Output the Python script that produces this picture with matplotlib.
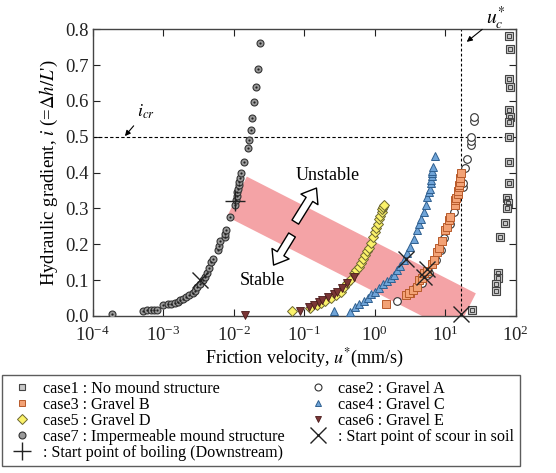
import numpy as np
import matplotlib
matplotlib.use('Agg')
import matplotlib.pyplot as plt
from matplotlib.lines import Line2D
from matplotlib.patches import Polygon
from matplotlib.ticker import LogFormatterMathtext, NullLocator

plt.rcParams['font.family'] = ['Liberation Serif', 'DejaVu Serif']
plt.rcParams['mathtext.fontset'] = 'stix'

# friction velocity u* (mm/s) and hydraulic gradient i for each case
case1_u = [80, 82, 80, 84, 80, 84, 80, 80, 80, 80, 75, 78, 75, 70, 60, 56, 57, 52, 52, 24]
case1_i = [0.78, 0.745, 0.66, 0.64, 0.575, 0.555, 0.54, 0.50, 0.43, 0.37, 0.33, 0.315,
           0.30, 0.26, 0.22, 0.12, 0.105, 0.09, 0.07, 0.017]
case2_u = [2.1, 3.8, 4.0, 4.7, 5.6, 5.9, 7.3, 8.8, 9.7, 11.7, 13.3, 17.9, 17.9, 19.2,
           20.7, 23.5, 23.5, 23.5, 25.2, 25.2]
case2_i = [0.043, 0.08, 0.082, 0.091, 0.114, 0.119, 0.156, 0.184, 0.217, 0.258, 0.291,
           0.36, 0.371, 0.412, 0.437, 0.477, 0.489, 0.5, 0.545, 0.554]
case3_u = [1.43, 2.8, 3.2, 3.05, 3.5, 4.0, 4.2, 4.7, 5.0, 5.6, 6.6, 7.0, 7.6, 8.2, 9.1,
           10.0, 10.6, 11.2, 11.7, 13.7, 13.7, 14.2, 15.0, 15.3, 15.6, 15.8, 16.0, 16.3, 16.6]
case3_i = [0.033, 0.059, 0.063, 0.065, 0.072, 0.082, 0.10, 0.105, 0.119, 0.125, 0.145,
           0.156, 0.179, 0.19, 0.21, 0.24, 0.249, 0.268, 0.275, 0.31, 0.323, 0.33, 0.34,
           0.35, 0.36, 0.365, 0.375, 0.385, 0.40]
case4_u = [0.26, 0.45, 0.52, 0.6, 0.7, 0.8, 0.88, 1.0, 1.15, 1.33, 1.5, 1.7, 1.87, 2.05,
           2.3, 2.6, 2.9, 3.2, 3.6, 4.0, 4.3, 4.6, 5.0, 5.3, 5.6, 5.8, 6.0, 6.2, 6.3, 6.4,
           6.5, 6.6, 6.7, 7.2]
case4_i = [0.015, 0.012, 0.025, 0.033, 0.042, 0.05, 0.06, 0.068, 0.078, 0.09, 0.098,
           0.105, 0.115, 0.128, 0.14, 0.156, 0.175, 0.193, 0.215, 0.24, 0.258, 0.272,
           0.29, 0.31, 0.333, 0.345, 0.355, 0.37, 0.38, 0.39, 0.40, 0.405, 0.416, 0.446]
case5_u = [0.067, 0.12, 0.15, 0.17, 0.2, 0.24, 0.28, 0.33, 0.37, 0.41, 0.45, 0.5, 0.55,
           0.6, 0.63, 0.68, 0.73, 0.78, 0.82, 0.88, 0.96, 1.0, 1.05, 1.1, 1.15, 1.2,
           1.25, 1.27, 1.3, 1.35]
case5_i = [0.015, 0.021, 0.03, 0.035, 0.042, 0.049, 0.058, 0.068, 0.08, 0.091, 0.1,
           0.119, 0.128, 0.137, 0.147, 0.158, 0.17, 0.18, 0.19, 0.205, 0.221, 0.235,
           0.245, 0.258, 0.27, 0.28, 0.29, 0.298, 0.305, 0.31]
case6_u = [0.0145, 0.088, 0.116, 0.137, 0.16, 0.18, 0.22, 0.26, 0.29, 0.34, 0.41, 0.5]
case6_i = [0.003, 0.015, 0.026, 0.031, 0.038, 0.045, 0.054, 0.062, 0.068, 0.077, 0.091, 0.11]
case7_u = [1.9e-4, 5.1e-4, 5.8e-4, 6.6e-4, 7.3e-4, 8.1e-4, 1.0e-3, 1.15e-3, 1.3e-3,
           1.45e-3, 1.6e-3, 1.75e-3, 1.9e-3, 2.1e-3, 2.3e-3, 2.6e-3, 2.8e-3, 3.0e-3,
           3.3e-3, 3.6e-3, 3.9e-3, 4.2e-3, 4.5e-3, 4.8e-3, 5.0e-3, 6.0e-3, 6.2e-3,
           6.4e-3, 7.4e-3, 7.6e-3, 7.8e-3, 8.7e-3, 1.05e-2, 1.08e-2, 1.1e-2, 1.12e-2,
           1.15e-2, 1.18e-2, 1.2e-2, 1.23e-2, 1.26e-2, 1.39e-2, 1.57e-2, 1.64e-2,
           1.73e-2, 1.84e-2, 1.94e-2, 2.04e-2, 2.17e-2, 2.35e-2]
case7_i = [0.006, 0.015, 0.016, 0.017, 0.018, 0.018, 0.03, 0.032, 0.034, 0.036, 0.04,
           0.045, 0.048, 0.052, 0.058, 0.065, 0.07, 0.08, 0.09, 0.1, 0.11, 0.12, 0.135,
           0.15, 0.16, 0.185, 0.195, 0.21, 0.22, 0.23, 0.24, 0.275, 0.31, 0.325, 0.335,
           0.345, 0.355, 0.365, 0.375, 0.385, 0.40, 0.43, 0.468, 0.491, 0.519, 0.553,
           0.598, 0.638, 0.69, 0.762]
# start points
scour_u = [3.3e-3, 2.75, 5.0, 5.5, 16.5]
scour_i = [0.10, 0.16, 0.11, 0.13, 0.005]
boil_u = [0.0105]
boil_i = [0.32]
# limits
i_cr = 0.5
u_c = 16.5
# transition band corners (u, i)
band_u = [0.0153, 27.2, 14.1, 0.008]
band_i = [0.389, 0.063, -0.048, 0.277]

fig = plt.figure(figsize=(5.56, 4.73), dpi=100)
ax = fig.add_axes([0.167, 0.332, 0.7605, 0.606])
ax.set_xscale('log')
ax.set_xlim(1e-4, 1e2)
ax.set_ylim(0, 0.8)

ax.add_patch(Polygon(list(zip(band_u, band_i)), closed=True, fc='#f4a3a6',
                     ec='none', zorder=1))

ax.axhline(i_cr, color='black', ls=(0, (3, 2)), lw=0.8, zorder=2)
ax.axvline(u_c, color='black', ls=(0, (2.5, 2)), lw=0.8, zorder=2)

ms = 5.5
# case1 square in square
ax.plot(case1_u, case1_i, 's', ms=6, mfc='#c8c8c8', mec='#444444', mew=0.8, zorder=3)
ax.plot(case1_u, case1_i, 's', ms=2.4, mfc='none', mec='#444444', mew=0.7, zorder=3)
ax.plot(case2_u, case2_i, 'o', ms=ms, mfc='white', mec='#333333', mew=0.8, zorder=3)
ax.plot(case3_u, case3_i, 's', ms=ms, mfc='#f3a275', mec='#b85a2a', mew=0.7, zorder=4)
ax.plot(case4_u, case4_i, '^', ms=ms, mfc='#6fa4d8', mec='#2f5f8f', mew=0.7, zorder=3)
ax.plot(case5_u, case5_i, 'D', ms=5, mfc='#fbf26a', mec='#6b6630', mew=0.7, zorder=3)
ax.plot(case6_u, case6_i, 'v', ms=ms, mfc='#7a3535', mec='#4a1a1a', mew=0.6, zorder=4,
        clip_on=False)
ax.plot(case7_u, case7_i, 'o', ms=5, mfc='#9a9a9a', mec='#333333', mew=0.8, zorder=3)
ax.plot(case7_u, case7_i, 'o', ms=1.6, mfc='#222222', mec='none', zorder=3)

ax.plot(scour_u, scour_i, 'x', ms=12, color='#222222', mew=1.0, zorder=5, clip_on=False)
ax.plot(boil_u, boil_i, '+', ms=14, color='#222222', mew=1.0, zorder=5)

# annotations
ax.annotate('$i_{cr}$', xy=(2.85e-4, 0.502), xytext=(4.2e-4, 0.57), fontsize=13,
            ha='left', va='center',
            arrowprops=dict(arrowstyle='-|>', color='black', lw=0.8,
                            shrinkA=2, shrinkB=0, mutation_scale=8))
ax.annotate('$u^{*}_{c}$', xy=(20.2, 0.765), xytext=(38, 0.83), fontsize=14,
            ha='left', va='center', annotation_clip=False,
            arrowprops=dict(arrowstyle='-|>', color='black', lw=0.8,
                            shrinkA=1, shrinkB=0, mutation_scale=8))
ax.text(0.213, 0.393, 'Unstable', fontsize=13, ha='center', va='center')
ax.text(0.0254, 0.098, 'Stable', fontsize=13, ha='center', va='center')
hollow = dict(arrowstyle='simple,head_length=0.6,head_width=0.9,tail_width=0.35',
              fc='white', ec='black', lw=1.0, mutation_scale=16, shrinkA=0, shrinkB=0)
ax.annotate('', xy=(0.149, 0.357), xytext=(0.0746, 0.262), arrowprops=hollow)
ax.annotate('', xy=(0.0367, 0.142), xytext=(0.067, 0.226), arrowprops=hollow)

ax.xaxis.set_major_formatter(LogFormatterMathtext())
ax.xaxis.set_minor_locator(NullLocator())
ax.set_yticks(np.arange(0, 0.81, 0.1))
ax.set_yticklabels(['%.1f' % v for v in np.arange(0, 0.81, 0.1)])
ax.tick_params(direction='in', top=True, right=True, length=5, width=0.8,
               labelsize=13.5, colors='#222222')
ax.tick_params(axis='x', pad=7)
ax.tick_params(axis='y', pad=3)
for s in ax.spines.values():
    s.set_color('#444444')
    s.set_linewidth(1.0)

ax.set_xlabel("Friction velocity, $u^{*}$(mm/s)", fontsize=13, labelpad=1)
ax.set_ylabel("Hydraulic gradient, $i$ (=$\\Delta h/L$')", fontsize=13.5, labelpad=4)

handles = [
    Line2D([], [], ls='none', marker='s', ms=5, mfc='#c8c8c8', mec='#444444', mew=0.8),
    Line2D([], [], ls='none', marker='s', ms=5, mfc='#f3a275', mec='#b85a2a', mew=0.7),
    Line2D([], [], ls='none', marker='D', ms=5, mfc='#fbf26a', mec='#6b6630', mew=0.7),
    Line2D([], [], ls='none', marker='o', ms=5, mfc='#9a9a9a', mec='#333333', mew=0.8),
    Line2D([], [], ls='none', marker='+', ms=13, color='#222222', mew=1.0),
    Line2D([], [], ls='none', marker='o', ms=5, mfc='white', mec='#333333', mew=0.8),
    Line2D([], [], ls='none', marker='^', ms=5, mfc='#6fa4d8', mec='#2f5f8f', mew=0.7),
    Line2D([], [], ls='none', marker='v', ms=5, mfc='#7a3535', mec='#4a1a1a', mew=0.6),
    Line2D([], [], ls='none', marker='x', ms=11, color='#222222', mew=1.0),
]
labels = ['case1 : No mound structure', 'case3 : Gravel B', 'case5 : Gravel D',
          'case7 : Impermeable mound structure',
          ': Start point of boiling (Downstream)',
          'case2 : Gravel A', 'case4 : Gravel C', 'case6 : Gravel E',
          ': Start point of scour in soil']
leg = fig.legend(handles, labels, loc='upper left', bbox_to_anchor=(0.004, 0.207),
                 ncol=2, fontsize=11.6, frameon=True, fancybox=False,
                 edgecolor='#333333', borderaxespad=0, borderpad=0.35,
                 labelspacing=0.0, handlelength=1.8, handletextpad=0.35,
                 columnspacing=1.2)
leg.get_frame().set_linewidth(1.0)

fig.savefig('out.png', dpi=100)
